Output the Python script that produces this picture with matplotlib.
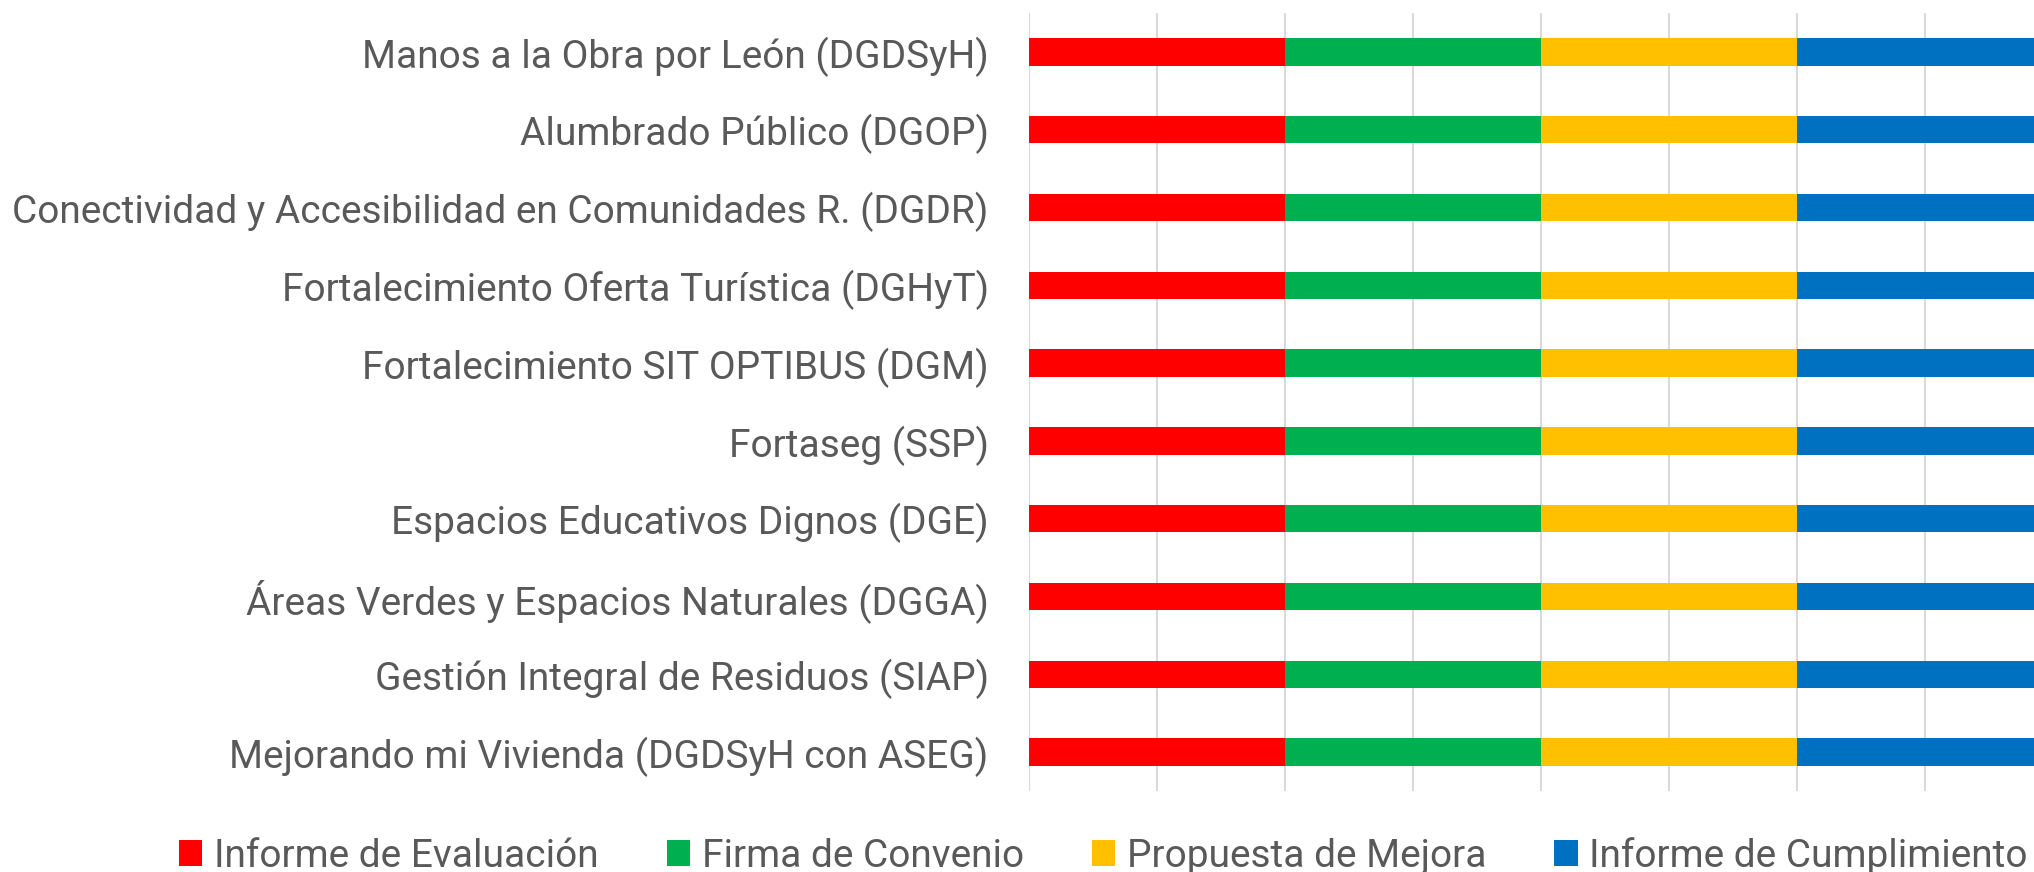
import matplotlib
matplotlib.use("Agg")
from matplotlib import pyplot as plt
import numpy as np

plt.rcParams['font.family'] = ['Roboto', 'DejaVu Sans']

programas = [
    "Manos a la Obra por León (DGDSyH)",
    "Alumbrado Público (DGOP)",
    "Conectividad y Accesibilidad en Comunidades R. (DGDR)",
    "Fortalecimiento Oferta Turística (DGHyT)",
    "Fortalecimiento SIT OPTIBUS (DGM)",
    "Fortaseg (SSP)",
    "Espacios Educativos Dignos (DGE)",
    "Áreas Verdes y Espacios Naturales (DGGA)",
    "Gestión Integral de Residuos (SIAP)",
    "Mejorando mi Vivienda (DGDSyH con ASEG)",
]
etapas = ["Informe de Evaluación", "Firma de Convenio",
          "Propuesta de Mejora", "Informe de Cumplimiento"]
informe_evaluacion = [1, 1, 1, 1, 1, 1, 1, 1, 1, 1]
firma_convenio = [1, 1, 1, 1, 1, 1, 1, 1, 1, 1]
propuesta_mejora = [1, 1, 1, 1, 1, 1, 1, 1, 1, 1]
informe_cumplimiento = [1, 1, 1, 1, 1, 1, 1, 1, 1, 1]
colores = ["#FF0000", "#00B050", "#FFC000", "#0070C0"]

texto = "#595959"
fs = 28
fig = plt.figure(figsize=(20.34, 8.72), dpi=100)
ax = fig.add_axes([1029 / 2034, 1 - 791 / 872, 1024 / 2034, 778 / 872])

y = np.arange(len(programas))
izq = np.zeros(len(programas))
for serie, nombre, c in zip([informe_evaluacion, firma_convenio, propuesta_mejora,
                             informe_cumplimiento], etapas, colores):
    ax.barh(y, serie, left=izq, height=0.35, color=c, label=nombre, zorder=3)
    izq += np.array(serie)

ax.set_ylim(len(programas) - 0.5, -0.5)
ax.set_xlim(0, 4)
ax.set_xticks(np.arange(0, 4.01, 0.5))
ax.set_xticklabels([])
ax.set_yticks(y)
ax.set_yticklabels(programas, fontsize=fs, color=texto)
ax.tick_params(axis='both', length=0)
ax.tick_params(axis='y', pad=29)
ax.grid(axis='x', color="#D9D9D9", linewidth=1.5, zorder=0)
for s in ax.spines.values():
    s.set_visible(False)

fig.legend(loc='center left', bbox_to_anchor=(179 / 2034, 1 - 856 / 872),
           ncol=4, frameon=False, fontsize=fs, labelcolor=texto,
           handlelength=0.6, handleheight=0.65, handletextpad=0.3,
           columnspacing=1.75, borderpad=0, borderaxespad=0)

fig.savefig("out.png", dpi=100)
